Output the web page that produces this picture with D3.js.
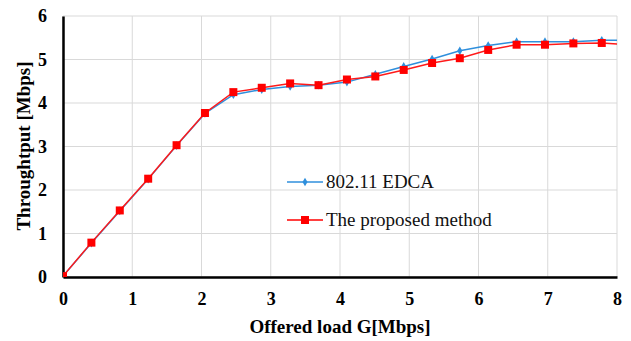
<!DOCTYPE html>
<html>
<head>
<meta charset="utf-8">
<script src="https://cdn.jsdelivr.net/npm/d3@7"></script>
<style>
  body { margin: 0; background: #fff; }
  svg { display: block; }
  .tick text { font-family: "Liberation Serif", "DejaVu Serif", serif; font-weight: bold; font-size: 18px; fill: #000; }
</style>
</head>
<body>
<svg id="chart" width="631" height="341"></svg>
<script>
// offered load (Mbps) for each sample
var load = [0, 0.41, 0.82, 1.23, 1.64, 2.05, 2.46, 2.87, 3.28, 3.69, 4.10,
            4.51, 4.92, 5.33, 5.73, 6.14, 6.55, 6.96, 7.37, 7.78, 8.19];
var edca = [0.02, 0.78, 1.52, 2.25, 3.02, 3.76, 4.19, 4.31, 4.38, 4.41, 4.48,
            4.66, 4.84, 5.01, 5.20, 5.32, 5.41, 5.41, 5.41, 5.44, 5.45];
var proposed = [0.02, 0.79, 1.53, 2.26, 3.03, 3.77, 4.25, 4.35, 4.45, 4.41, 4.54,
                4.61, 4.76, 4.92, 5.03, 5.22, 5.34, 5.34, 5.37, 5.38, 5.34];
var xTicks = [0, 1, 2, 3, 4, 5, 6, 7, 8];
var yTicks = [0, 1, 2, 3, 4, 5, 6];
var seriesNames = ["802.11 EDCA", "The proposed method"];

var svg = d3.select("#chart"),
    margin = {top: 16, right: 14, bottom: 64, left: 63},
    width = 631 - margin.left - margin.right,
    height = 341 - margin.top - margin.bottom,
    g = svg.append("g").attr("transform", "translate(" + margin.left + "," + margin.top + ")");

var serif = '"Liberation Serif", "DejaVu Serif", serif';

var x = d3.scaleLinear().domain([0, 8]).range([0, width]);
var y = d3.scaleLinear().domain([0, 6]).range([height, 0]);

// gridlines
g.append("g").selectAll("line").data(yTicks).enter().append("line")
    .attr("x1", 0).attr("x2", width)
    .attr("y1", function(d) { return y(d); }).attr("y2", function(d) { return y(d); })
    .attr("stroke", "#d9d9d9").attr("stroke-width", 1);
g.append("g").selectAll("line").data(xTicks).enter().append("line")
    .attr("x1", function(d) { return x(d); }).attr("x2", function(d) { return x(d); })
    .attr("y1", 0).attr("y2", height)
    .attr("stroke", "#d9d9d9").attr("stroke-width", 1);

// axes
var xAxis = g.append("g")
    .attr("transform", "translate(0," + height + ")")
    .call(d3.axisBottom(x).tickValues(xTicks).tickSize(0).tickPadding(15).tickFormat(d3.format("d")));
xAxis.select(".domain").attr("stroke", "#000").attr("stroke-width", 2.5);

var yAxis = g.append("g")
    .call(d3.axisLeft(y).tickValues(yTicks).tickSize(0).tickPadding(16).tickFormat(d3.format("d")));
yAxis.select(".domain").attr("stroke", "#000").attr("stroke-width", 2.5);

// d3 axes set their own font on the group, override it
g.selectAll(".tick text").attr("font-family", null).attr("font-size", null);
xAxis.attr("font-family", null).attr("font-size", null);
yAxis.attr("font-family", null).attr("font-size", null);

// keep lines inside the plot
svg.append("clipPath").attr("id", "clip")
  .append("rect").attr("width", width).attr("height", height);

var plot = g.append("g").attr("clip-path", "url(#clip)");

var line = d3.line()
    .x(function(d) { return x(d[0]); })
    .y(function(d) { return y(d[1]); });

var edcaData = d3.zip(load, edca);
var propData = d3.zip(load, proposed);

plot.append("path").datum(edcaData)
    .attr("d", line).attr("fill", "none")
    .attr("stroke", "#2f8fdc").attr("stroke-width", 1.5);
plot.append("path").datum(propData)
    .attr("d", line).attr("fill", "none")
    .attr("stroke", "#ff1a1a").attr("stroke-width", 1.5);

var diamond = d3.symbol().type(d3.symbolDiamond).size(22);
plot.selectAll(".edca").data(edcaData).enter().append("path")
    .attr("class", "edca")
    .attr("transform", function(d) { return "translate(" + x(d[0]) + "," + y(d[1]) + ")"; })
    .attr("d", diamond).attr("fill", "#2f8fdc");

plot.selectAll(".prop").data(propData).enter().append("rect")
    .attr("class", "prop")
    .attr("x", function(d) { return x(d[0]) - 4; })
    .attr("y", function(d) { return y(d[1]) - 4; })
    .attr("width", 8).attr("height", 8)
    .attr("fill", "#ff0000");

// legend
var legend = g.append("g").attr("transform", "translate(224,166)");
var legItems = [
  {name: seriesNames[0], color: "#2f8fdc", shape: "diamond"},
  {name: seriesNames[1], color: "#ff0000", shape: "square"}
];
legItems.forEach(function(it, i) {
  var row = legend.append("g").attr("transform", "translate(0," + (i * 38) + ")");
  row.append("line").attr("x1", 0).attr("x2", 36).attr("y1", 0).attr("y2", 0)
     .attr("stroke", it.color).attr("stroke-width", 1.5);
  if (it.shape === "diamond") {
    row.append("path").attr("d", diamond).attr("transform", "translate(18,0)").attr("fill", it.color);
  } else {
    row.append("rect").attr("x", 14).attr("y", -4).attr("width", 8).attr("height", 8).attr("fill", it.color);
  }
  row.append("text").attr("x", 39).attr("y", 6)
     .attr("font-family", serif)
     .attr("font-size", 19)
     .attr("fill", "#111")
     .text(it.name);
});

// axis titles
svg.append("text")
    .attr("x", 340).attr("y", 333)
    .attr("text-anchor", "middle")
    .attr("font-family", serif)
    .attr("font-weight", "bold").attr("font-size", 19)
    .text("Offered load G[Mbps]");

svg.append("text")
    .attr("transform", "translate(30,146) rotate(-90)")
    .attr("text-anchor", "middle")
    .attr("font-family", serif)
    .attr("font-weight", "bold").attr("font-size", 19)
    .text("Throughtput [Mbps]");
</script>
</body>
</html>
